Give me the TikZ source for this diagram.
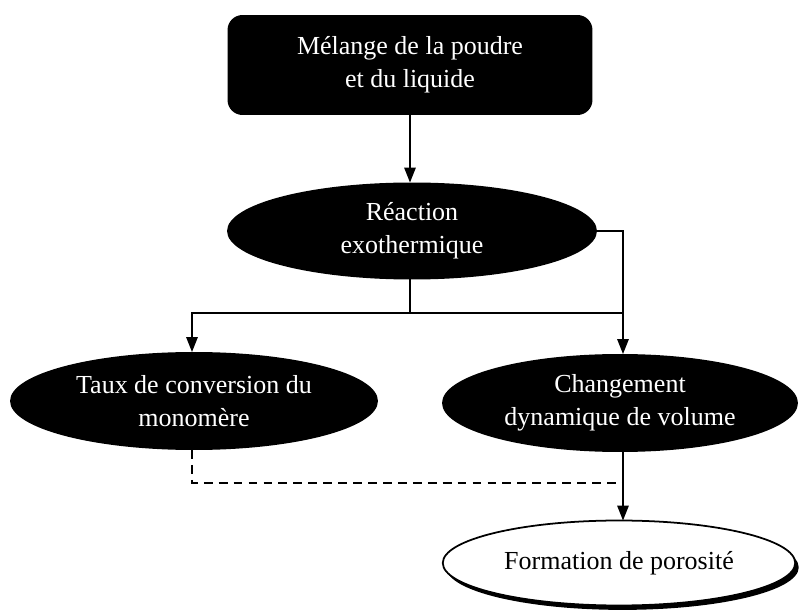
\documentclass[tikz,border=0pt]{standalone}
\usepackage{fontspec}
\setmainfont{Liberation Serif}
\usetikzlibrary{shapes.geometric,shadows,arrows.meta}

\begin{document}
\begin{tikzpicture}[
    x = 0.02cm,
    y = -0.02cm,
    >={Triangle[length=8.5pt,width=6.5pt]},
    line width=1pt,
    txt/.style = {align=center, font=\fontsize{14.8}{19}\selectfont,
              inner sep=0pt, outer sep=0pt},
    blackbox/.style = {txt, rectangle, rounded corners=0.3cm, fill=black,
              text=white, minimum width=7.3cm, minimum height=2cm},
    blackell/.style = {txt, ellipse, fill=black, text=white},
    whiteell/.style = {txt, ellipse, draw=black, fill=white, line width=1pt,
              drop shadow={fill=black, opacity=1, shadow xshift=2pt,
              shadow yshift=-2.5pt}},
    ]

\useasboundingbox (0,0) rectangle (799,615);

\node[blackbox] (melange) at (410,65) {Mélange de la poudre\\et du liquide};
\node[blackell, minimum width=7.4cm, minimum height=1.94cm] (reaction) at (412,231)
    {Réaction\\exothermique};
\node[blackell, minimum width=7.36cm, minimum height=1.96cm] (taux) at (194,401)
    {Taux de conversion du\\monomère};
\node[blackell, minimum width=7.12cm, minimum height=1.96cm] (changement) at (620,403)
    {Changement\\dynamique de volume};
\node[whiteell, minimum width=7.05cm, minimum height=1.7cm] (formation) at (619,563)
    {Formation de porosité};

\coordinate (split) at (410,313);
\coordinate (join) at (623,483);

\draw [->] (melange.south -| 410,0) -- (reaction.north -| 410,0);
\draw (reaction.south -| split) -- (split);
\draw [->] (split) -| (taux.north -| 192,0);
\draw [->] (reaction.east) -| (changement.north -| join);
\draw (split) -- (split -| join);
\draw [->] (changement.south -| join) -- (formation.north -| join);
\draw [dash pattern=on 5pt off 3.5pt] (taux.south -| 192,0) |- (join);

\end{tikzpicture}
\end{document}
